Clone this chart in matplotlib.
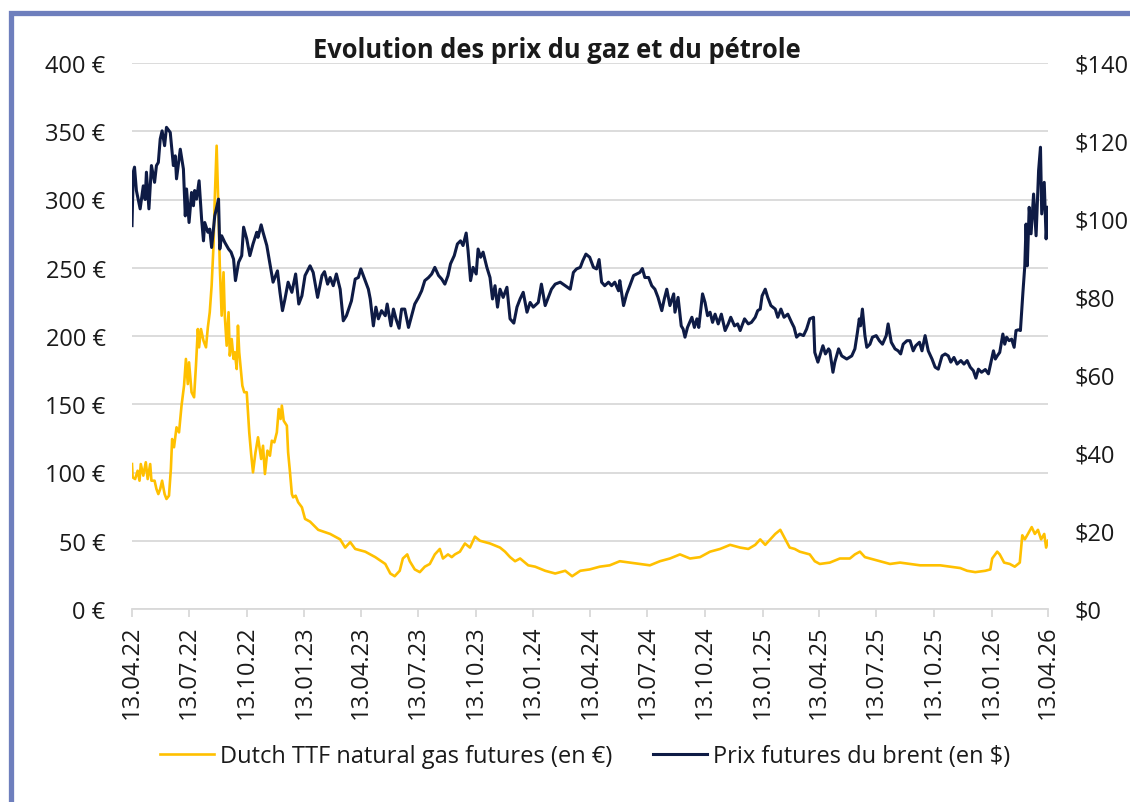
import matplotlib
matplotlib.use("Agg")
import matplotlib.pyplot as plt
import matplotlib.dates as mdates
from matplotlib.ticker import FuncFormatter, MultipleLocator
from matplotlib.patches import Rectangle
from matplotlib.lines import Line2D
import pandas as pd

plt.rcParams['font.family'] = ['Open Sans', 'DejaVu Sans']

title = "Evolution des prix du gaz et du pétrole"
gas_label = "Dutch TTF natural gas futures (en €)"
brent_label = "Prix futures du brent (en $)"
start_date = "2022-04-13"
end_date = "2026-04-13"

# days since 13.04.2022 and Brent price ($)
brent_days = [0, 2, 4, 7, 13, 18, 21, 23, 27, 31, 36, 39, 42, 45, 48, 52, 55, 61, 66, 69,
              71, 77, 82, 85, 87, 91, 95, 98, 100, 103, 107, 111, 114, 116, 121, 124, 127, 132, 138, 140,
              143, 148, 154, 158, 162, 165, 170, 175, 178, 183, 188, 193, 199, 201, 206, 209, 215, 220, 225, 232,
              236, 240, 244, 249, 255, 261, 266, 271, 276, 284, 289, 296, 303, 307, 312, 316, 321, 326, 332, 337,
              342, 350, 356, 361, 365, 372, 377, 380, 385, 389, 393, 398, 404, 407, 413, 417, 421, 426, 430, 435,
              441, 446, 451, 457, 462, 467, 473, 478, 483, 489, 494, 499, 504, 508, 514, 519, 524, 528, 533, 536,
              540, 544, 549, 552, 556, 560, 566, 571, 575, 579, 583, 587, 592, 598, 603, 609, 614, 619, 624, 630,
              635, 640, 648, 653, 659, 664, 669, 675, 683, 691, 699, 704, 709, 715, 719, 724, 730, 736, 741, 745,
              749, 754, 760, 765, 770, 776, 778, 784, 789, 794, 800, 805, 810, 814, 818, 824, 829, 834, 839, 845,
              849, 853, 858, 864, 866, 871, 876, 879, 882, 886, 893, 897, 901, 904, 908, 910, 914, 918, 922, 926,
              930, 935, 940, 946, 951, 955, 961, 966, 970, 977, 983, 988, 994, 998, 1002, 1005, 1010, 1014, 1019, 1026,
              1030, 1035, 1040, 1046, 1052, 1056, 1060, 1065, 1071, 1076, 1081, 1087, 1089, 1094, 1097, 1102, 1106, 1111, 1113, 1118,
              1121, 1127, 1132, 1140, 1148, 1153, 1157, 1160, 1162, 1165, 1169, 1172, 1177, 1181, 1187, 1192, 1197, 1203, 1206, 1211,
              1217, 1222, 1226, 1230, 1236, 1241, 1246, 1250, 1256, 1260, 1265, 1270, 1276, 1281, 1286, 1292, 1297, 1302, 1306, 1311,
              1316, 1322, 1327, 1332, 1337, 1342, 1346, 1350, 1355, 1361, 1366, 1370, 1374, 1377, 1380, 1384, 1389, 1392, 1395, 1399,
              1403, 1407, 1410, 1414, 1417, 1421, 1424, 1426, 1428, 1431, 1434, 1438, 1442, 1446, 1449, 1451, 1455, 1458, 1461]
brent_usd = [98.3, 112.0, 113.3, 107.3, 102.6, 108.5, 105.0, 112.0, 102.6, 113.7, 109.4, 113.7, 114.5, 120.5, 122.6, 118.8, 123.5, 122.2, 113.7, 116.2,
             110.3, 117.9, 112.8, 100.8, 107.7, 99.1, 106.8, 103.4, 107.3, 105.1, 109.8, 100.0, 94.4, 99.1, 96.6, 97.4, 92.7, 100.8, 105.1, 92.3,
             95.7, 94.0, 92.3, 91.5, 89.7, 84.2, 88.9, 90.6, 97.9, 94.9, 90.6, 93.6, 96.6, 95.3, 98.5, 96.6, 93.2, 88.5, 83.8, 86.7,
             81.2, 76.5, 79.5, 83.8, 81.2, 85.9, 78.2, 80.3, 85.5, 88.0, 86.3, 79.9, 85.5, 86.5, 83.3, 85.0, 82.9, 85.9, 82.0, 73.9,
             75.2, 79.0, 84.6, 85.0, 87.2, 84.2, 82.0, 79.5, 72.6, 77.4, 74.4, 76.5, 75.2, 78.2, 72.6, 76.9, 74.4, 72.0, 76.9, 76.9,
             72.2, 75.2, 78.2, 79.9, 81.6, 84.2, 85.0, 85.9, 87.6, 85.5, 84.6, 83.3, 85.5, 88.5, 90.6, 93.6, 94.4, 93.2, 96.4, 91.9,
             84.2, 87.6, 85.9, 92.3, 90.2, 91.5, 87.6, 85.0, 79.5, 82.9, 77.4, 82.0, 79.9, 82.5, 74.4, 73.3, 77.4, 79.5, 81.2, 76.1,
             78.6, 77.4, 78.6, 83.3, 77.8, 79.9, 82.0, 83.3, 83.8, 82.9, 82.0, 86.3, 87.2, 87.6, 89.3, 91.0, 90.2, 87.6, 87.2, 89.6,
             83.8, 82.9, 83.8, 82.9, 83.8, 81.6, 84.2, 77.8, 80.8, 82.9, 85.5, 85.9, 86.3, 87.3, 85.0, 85.0, 82.9, 82.0, 79.9, 76.5,
             79.5, 82.0, 77.8, 80.8, 76.1, 79.9, 72.6, 71.8, 69.7, 72.2, 74.8, 72.2, 74.4, 72.2, 77.8, 80.8, 78.6, 75.2, 76.1, 73.5,
             75.6, 73.1, 75.6, 71.4, 73.1, 74.8, 72.6, 73.1, 71.4, 74.4, 73.1, 73.5, 74.8, 76.5, 76.9, 80.3, 82.0, 79.9, 77.8, 76.9,
             74.8, 76.9, 74.8, 75.6, 73.5, 72.2, 69.7, 70.5, 70.1, 71.8, 74.4, 74.8, 65.8, 63.3, 64.9, 67.5, 65.4, 66.7, 66.2, 60.7,
             63.3, 66.7, 64.9, 64.1, 64.9, 66.7, 70.9, 74.4, 72.6, 76.9, 70.1, 67.1, 67.9, 69.7, 70.1, 68.8, 67.9, 70.1, 73.1, 68.4,
             66.7, 66.2, 65.4, 67.9, 68.8, 68.8, 66.2, 67.5, 68.4, 66.2, 70.1, 66.2, 64.1, 62.0, 61.5, 64.9, 65.4, 64.9, 63.3, 64.5,
             62.8, 63.7, 62.8, 63.7, 62.0, 61.1, 59.2, 61.5, 60.7, 61.4, 60.3, 63.3, 66.2, 64.1, 64.9, 65.8, 70.5, 67.9, 69.7, 68.8,
             69.2, 67.1, 71.4, 71.6, 71.4, 81.2, 88.0, 98.7, 88.0, 103.0, 96.2, 106.4, 95.7, 112.4, 118.4, 101.3, 109.4, 94.9, 103.0]

# days since 13.04.2022 and Dutch TTF gas price (EUR)
gas_days = [0, 1, 5, 9, 12, 14, 18, 22, 25, 29, 31, 36, 39, 42, 45, 48, 52, 55, 59, 62,
            64, 67, 71, 75, 79, 83, 86, 89, 91, 95, 99, 102, 105, 107, 110, 114, 118, 121, 124, 127,
            130, 132, 135, 138, 140, 143, 146, 148, 151, 154, 156, 159, 162, 164, 167, 169, 171, 174, 176, 179,
            183, 187, 190, 193, 197, 201, 206, 209, 212, 216, 220, 223, 227, 231, 234, 237, 239, 242, 247, 249,
            252, 255, 257, 261, 265, 271, 276, 284, 297, 316, 332, 340, 348, 356, 372, 388, 404, 412, 419, 427,
            432, 439, 443, 451, 459, 467, 475, 483, 491, 496, 504, 510, 515, 523, 531, 539, 547, 555, 571, 587,
            595, 603, 611, 619, 632, 643, 659, 675, 691, 702, 715, 730, 746, 762, 778, 794, 810, 826, 842, 858,
            874, 890, 906, 922, 938, 954, 970, 983, 994, 1002, 1010, 1018, 1026, 1034, 1042, 1049, 1057, 1065, 1081, 1089,
            1097, 1113, 1129, 1145, 1153, 1161, 1169, 1177, 1193, 1209, 1225, 1241, 1257, 1273, 1289, 1305, 1321, 1332, 1345, 1361,
            1369, 1372, 1380, 1384, 1391, 1400, 1408, 1416, 1420, 1424, 1429, 1435, 1440, 1445, 1450, 1455, 1458, 1461]
gas_eur = [106.2, 96.5, 95.2, 101.3, 94.0, 106.2, 97.7, 107.5, 95.2, 106.2, 94.0, 94.0, 87.9, 84.2, 87.9, 94.0, 84.2, 80.6, 83.0, 102.6,
           124.5, 118.5, 133.1, 129.4, 149.0, 163.6, 183.2, 164.8, 180.7, 158.8, 155.1, 178.2, 205.1, 191.7, 205.1, 196.6, 191.7, 206.4, 217.4, 236.9,
           266.2, 300.4, 339.4, 290.6, 251.5, 214.9, 246.7, 214.9, 192.9, 217.4, 185.6, 197.8, 183.2, 188.1, 175.8, 207.6, 188.1, 173.4, 163.6, 158.8,
           158.8, 129.4, 113.6, 100.1, 114.8, 125.8, 109.9, 119.6, 98.9, 116.0, 112.3, 123.3, 122.1, 129.4, 146.5, 139.2, 149.0, 137.9, 134.3, 114.8,
           100.1, 84.2, 81.8, 83.0, 78.2, 74.5, 66.0, 64.0, 58.0, 55.0, 51.0, 45.0, 49.0, 44.0, 42.0, 38.0, 33.0, 26.0, 24.0, 28.0,
           37.0, 40.0, 35.0, 29.0, 27.0, 31.0, 33.0, 40.0, 44.0, 37.0, 40.0, 38.0, 40.0, 42.0, 48.0, 45.0, 53.0, 50.0, 48.0, 45.0,
           42.0, 38.0, 35.0, 37.0, 32.0, 31.0, 28.0, 26.0, 28.0, 24.0, 28.0, 29.0, 31.0, 32.0, 35.0, 34.0, 33.0, 32.0, 35.0, 37.0,
           40.0, 37.0, 38.0, 42.0, 44.0, 47.0, 45.0, 44.0, 47.0, 51.0, 47.0, 51.0, 55.0, 58.0, 51.0, 45.0, 44.0, 42.0, 40.0, 35.0,
           33.0, 34.0, 37.0, 37.0, 40.0, 42.0, 38.0, 37.0, 35.0, 33.0, 34.0, 33.0, 32.0, 32.0, 32.0, 31.0, 30.0, 28.0, 27.0, 28.0,
           29.0, 37.0, 42.0, 40.0, 34.0, 33.0, 31.0, 34.0, 54.0, 51.0, 55.0, 60.0, 55.0, 58.0, 51.0, 55.0, 45.0, 50.0]

gas_color = "#FFC000"
brent_color = "#0E1B45"
grid_color = "#D9D9D9"
frame_color = "#6E7FBD"
text_color = "#1A1A1A"

t0 = pd.Timestamp(start_date)
gas_dates = t0 + pd.to_timedelta(gas_days, unit="D")
brent_dates = t0 + pd.to_timedelta(brent_days, unit="D")
tick_dates = pd.date_range(start_date, end_date, freq=pd.DateOffset(months=3))

W, H = 1130, 803
fig = plt.figure(figsize=(W / 100, H / 100), dpi=100)
fig.patch.set_facecolor("white")

# frame
fig.patches.append(Rectangle((10.5 / W, -0.05), 1.2, 1 - 14 / H + 0.05, transform=fig.transFigure,
                             fill=False, edgecolor=frame_color, linewidth=3.8, zorder=0))

ax = fig.add_axes([132 / W, 1 - 610 / H, (1048 - 132) / W, (610 - 64) / H])
ax2 = ax.twinx()

ax.plot(gas_dates, gas_eur, color=gas_color, linewidth=1.9, solid_joinstyle="round", zorder=3)
ax2.plot(brent_dates, brent_usd, color=brent_color, linewidth=2.2, solid_joinstyle="round", zorder=3)

ax.set_xlim(pd.Timestamp(start_date), pd.Timestamp(end_date))
ax.set_ylim(0, 400)
ax2.set_ylim(0, 140)
ax.yaxis.set_major_locator(MultipleLocator(50))
ax2.yaxis.set_major_locator(MultipleLocator(20))
ax.yaxis.set_major_formatter(FuncFormatter(lambda v, p: f"{int(v)} €"))
ax2.yaxis.set_major_formatter(FuncFormatter(lambda v, p: f"${int(v)}"))

ax.set_xticks(tick_dates)
ax.xaxis.set_major_formatter(mdates.DateFormatter("%d.%m.%y"))

ax.grid(axis="y", color=grid_color, linewidth=1.3)
ax.set_axisbelow(True)
for a in (ax, ax2):
    for s in ("top", "left", "right"):
        a.spines[s].set_visible(False)
    a.spines["bottom"].set_color(grid_color)
    a.spines["bottom"].set_linewidth(1.3)
ax2.spines["bottom"].set_visible(False)

ax.tick_params(axis="y", length=0, pad=19, labelsize=17, labelcolor=text_color)
ax2.tick_params(axis="y", length=0, pad=19, labelsize=17, labelcolor=text_color)
ax.tick_params(axis="x", length=6, width=1.3, color=grid_color, pad=5, labelsize=17,
               labelcolor=text_color, labelrotation=90)

fig.text(557 / W, 1 - 51 / H, title, ha="center", va="center", fontsize=18.4,
         fontweight="bold", color=text_color)

handles = [Line2D([], [], color=gas_color, linewidth=1.9),
           Line2D([], [], color=brent_color, linewidth=2.2)]
fig.legend(handles, [gas_label, brent_label], loc="center", bbox_to_anchor=(585 / W, 1 - 757 / H),
           ncol=2, frameon=False, fontsize=17, handlelength=2.3, handletextpad=0.25,
           columnspacing=1.7, labelcolor=text_color)

fig.savefig("out.png", dpi=100, facecolor="white")
